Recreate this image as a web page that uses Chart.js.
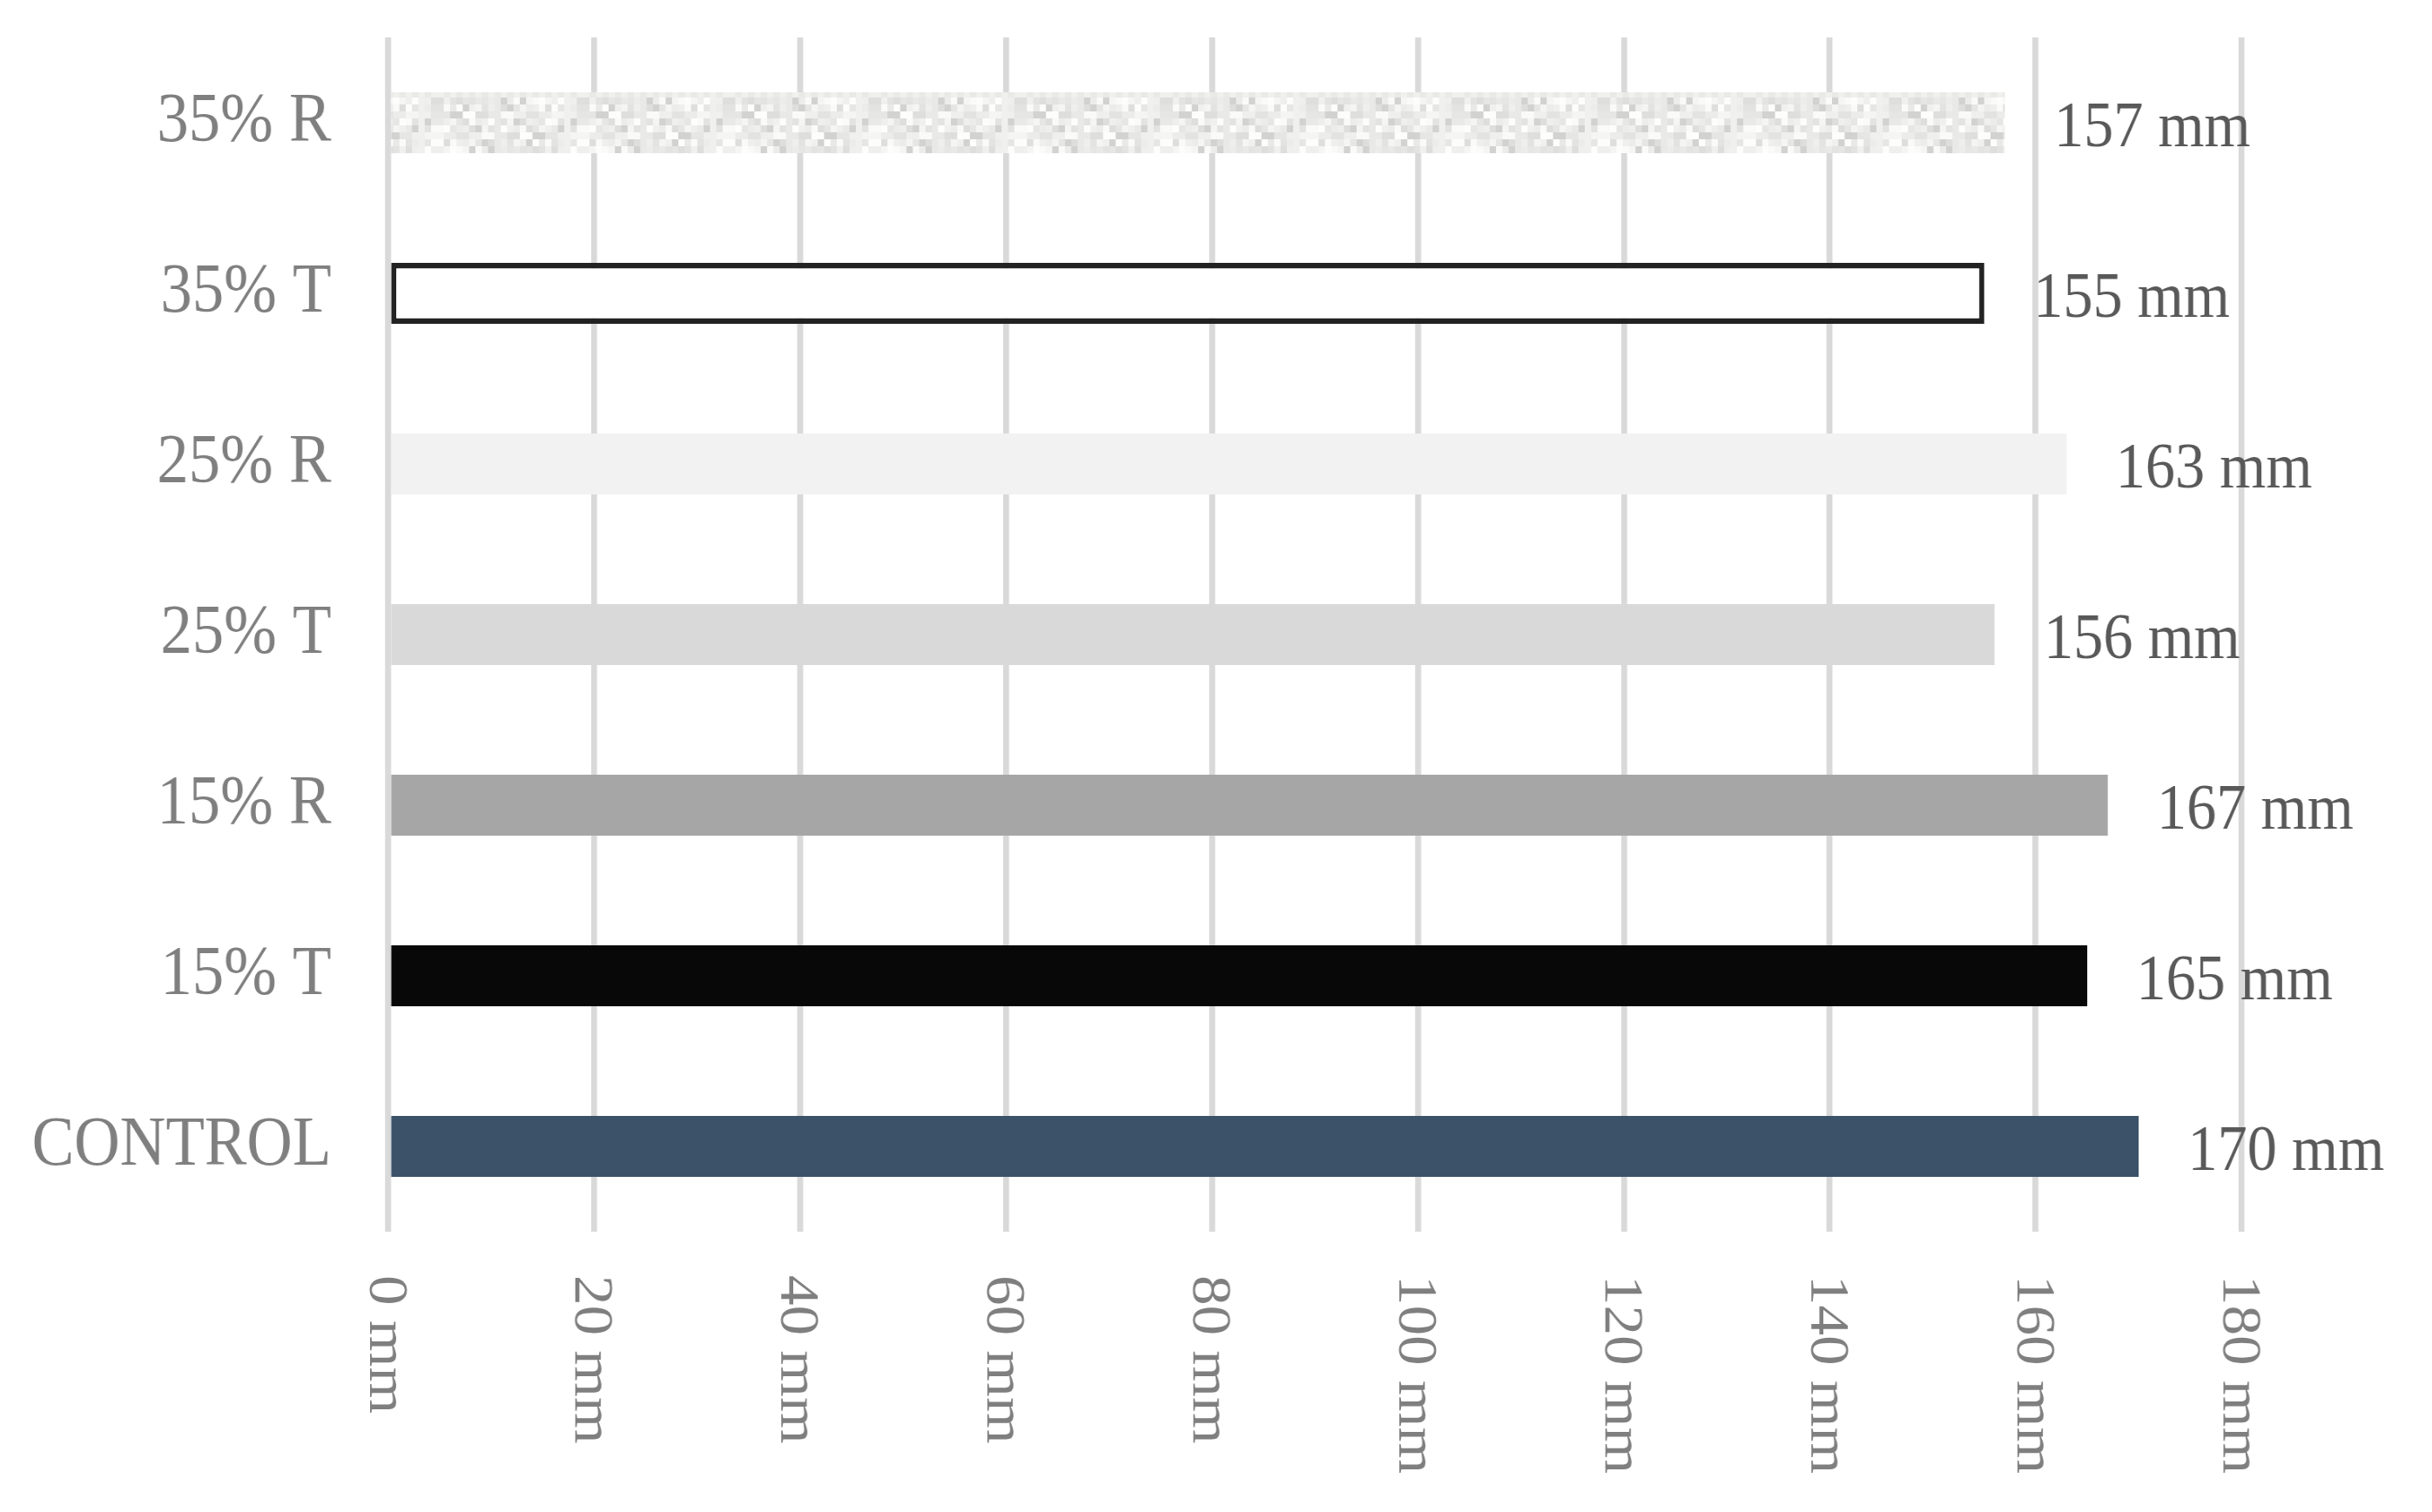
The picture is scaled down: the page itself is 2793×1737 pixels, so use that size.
<!DOCTYPE html>
<html>
<head>
<meta charset="utf-8">
<script src="https://cdn.jsdelivr.net/npm/chart.js@4/dist/chart.umd.min.js"></script>
<style>
  html, body { margin: 0; padding: 0; background: #fff; overflow: hidden; }
  /* the source figure is slightly squeezed sideways, so draw wide and squeeze */
  #wrap { width: 3069px; height: 1737px; transform: scaleX(0.91); transform-origin: 0 0; }
</style>
</head>
<body>
<div id="wrap"><canvas id="grafico"></canvas></div>
<script>
// Dados
const categorias = ['35% R', '35% T', '25% R', '25% T', '15% R', '15% T', 'CONTROL'];
const valores = [157, 155, 163, 156, 167, 165, 170];
const unidade = 'mm';
const eixoMin = 0;
const eixoMax = 180;
const eixoPasso = 20;

// textura cinza clara da barra "35% R"
function criarTextura() {
    const c = document.createElement('canvas');
    c.width = 8 * 23; c.height = 8 * 9;
    const g = c.getContext('2d');
    const tons = ['#fafaf8', '#f0f0ee', '#e9e9e7', '#f5f5f3', '#dededc', '#ececea', '#fdfdfb', '#e3e3e1', '#d2d2d0', '#efefed', '#e6e6e4'];
    for (let i = 0; i < 23; i++) {
        for (let j = 0; j < 9; j++) {
            g.fillStyle = tons[(i * 5 + j * 3 + i * j * 7 + (i * i) % 4) % tons.length];
            g.fillRect(i * 8, j * 8, 8, 8);
        }
    }
    return g.createPattern(c, 'repeat');
}

const cores = [criarTextura(), '#ffffff', '#f2f2f2', '#d9d9d9', '#a6a6a6', '#080808', '#3c5269'];
const bordas = ['rgba(0,0,0,0)', '#222222', 'rgba(0,0,0,0)', 'rgba(0,0,0,0)', 'rgba(0,0,0,0)', 'rgba(0,0,0,0)', 'rgba(0,0,0,0)'];
const larguraBorda = [0, 6.5, 0, 0, 0, 0, 0];

// rótulos de valor no fim das barras
const rotulosValor = {
    id: 'rotulosValor',
    afterDatasetsDraw(chart) {
        const ctx = chart.ctx;
        const meta = chart.getDatasetMeta(0);
        const fs = 75;
        ctx.save();
        ctx.font = fs + 'px "Liberation Serif"';
        ctx.fillStyle = '#595959';
        ctx.textAlign = 'left';
        ctx.textBaseline = 'alphabetic';
        meta.data.forEach((barra, i) => {
            ctx.fillText(valores[i] + ' ' + unidade, barra.x + 62, barra.y + fs * 0.36);
        });
        ctx.restore();
    }
};

// rótulos do eixo x girados 90° no sentido horário
const rotulosEixoX = {
    id: 'rotulosEixoX',
    afterDraw(chart) {
        const ctx = chart.ctx;
        const escala = chart.scales.x;
        const fs = 69;
        ctx.save();
        ctx.font = fs + 'px "Liberation Serif"';
        ctx.fillStyle = '#7f7f7f';
        ctx.textAlign = 'left';
        ctx.textBaseline = 'alphabetic';
        escala.ticks.forEach(t => {
            const x = escala.getPixelForValue(t.value);
            ctx.save();
            ctx.translate(x - fs * 0.34, chart.chartArea.bottom + 50);
            ctx.rotate(Math.PI / 2);
            ctx.fillText(t.value + ' ' + unidade, 0, 0);
            ctx.restore();
        });
        ctx.restore();
    }
};

new Chart(document.getElementById('grafico').getContext('2d'), {
    type: 'bar',
    data: {
        labels: categorias,
        datasets: [{
            data: valores,
            backgroundColor: cores,
            borderColor: bordas,
            borderWidth: larguraBorda,
            borderSkipped: false,
            categoryPercentage: 1,
            barPercentage: 0.357
        }]
    },
    options: {
        indexAxis: 'y',
        responsive: true,
        maintainAspectRatio: false,
        devicePixelRatio: 1,
        animation: false,
        layout: { padding: { top: 43, bottom: 322, left: 0, right: 240 } },
        scales: {
            x: {
                min: eixoMin,
                max: eixoMax,
                ticks: { display: false, stepSize: eixoPasso },
                grid: { color: '#d9d9d9', lineWidth: 7.5, drawTicks: false },
                border: { display: false },
                afterFit: s => { s.height = 0; s.paddingLeft = 0; s.paddingRight = 0; }
            },
            y: {
                ticks: {
                    color: '#7f7f7f',
                    padding: 72,
                    font: { family: '"Liberation Serif"', size: 80 }
                },
                grid: { display: false, drawTicks: false },
                border: { display: false },
                afterFit: s => { s.width = 490; s.paddingTop = 0; s.paddingBottom = 0; }
            }
        },
        plugins: {
            legend: { display: false },
            tooltip: { enabled: false }
        }
    },
    plugins: [rotulosValor, rotulosEixoX]
});
</script>
</body>
</html>
